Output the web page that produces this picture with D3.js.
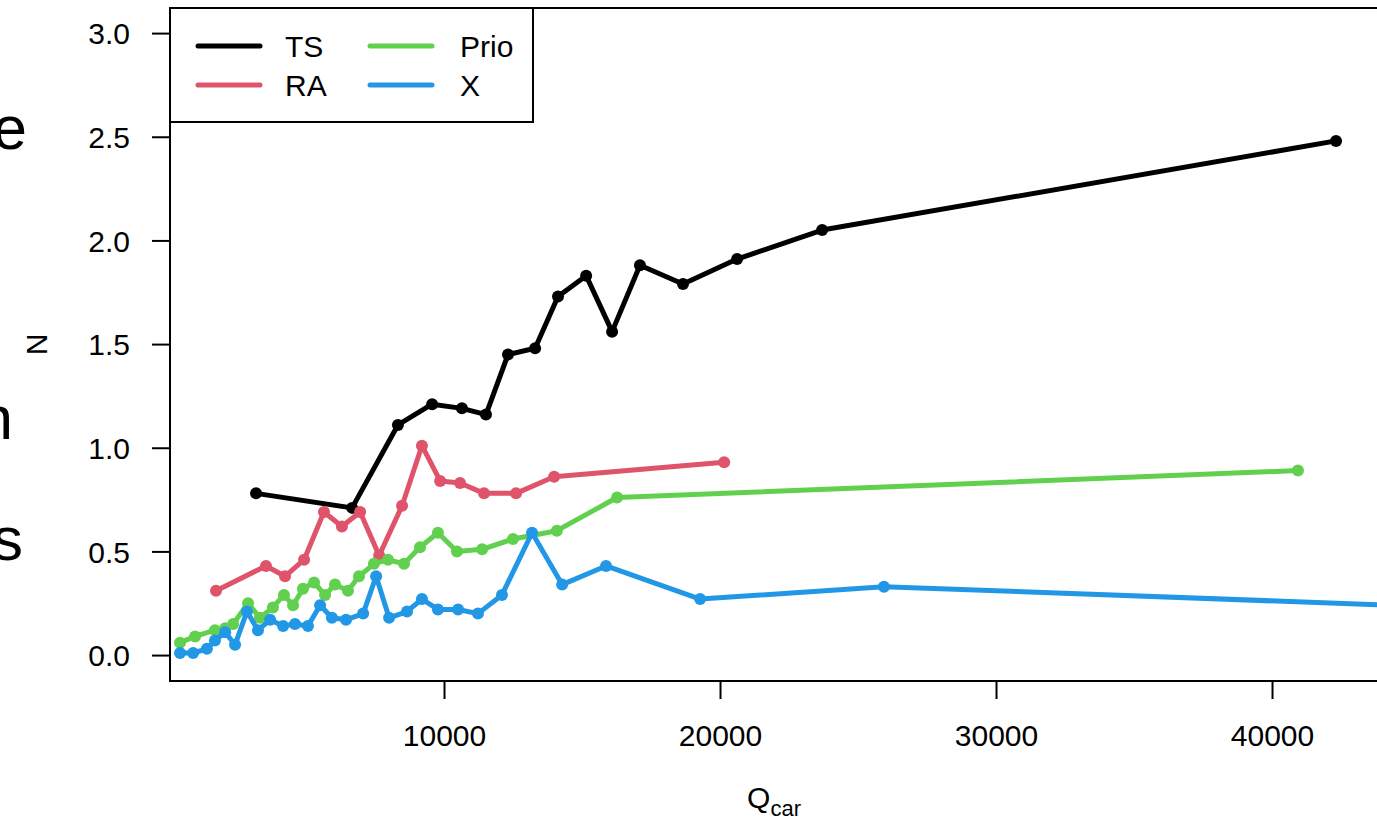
<!DOCTYPE html>
<html>
<head>
<meta charset="utf-8">
<script src="https://cdn.jsdelivr.net/npm/d3@7"></script>
<style>
  body { margin: 0; background: #fff; }
  svg { display: block; font-family: "Liberation Sans", Arial, sans-serif; }
</style>
</head>
<body>
<svg id="chart" width="1377" height="830"></svg>
<script>
// series values (Qcar, N)
const tsQ   = [3190, 6670, 8330, 9570, 10650, 11520, 12320, 13300, 14130, 15150, 16090, 17100, 18660, 20620, 23700, 42320];
const tsN   = [0.78, 0.71, 1.11, 1.21, 1.19, 1.16, 1.45, 1.48, 1.73, 1.83, 1.56, 1.88, 1.79, 1.91, 2.05, 2.48];
const raQ   = [1740, 3550, 4240, 4930, 5650, 6300, 6960, 7650, 8480, 9200, 9860, 10580, 11450, 12610, 13990, 20150];
const raN   = [0.31, 0.43, 0.38, 0.46, 0.69, 0.62, 0.69, 0.48, 0.72, 1.01, 0.84, 0.83, 0.78, 0.78, 0.86, 0.93];
const prioQ = [435, 980, 1700, 2070, 2360, 2900, 3330, 3800, 4200, 4530, 4890, 5290, 5690, 6050, 6520, 6920, 7460, 7970, 8550, 9130, 9780, 10470, 11380, 12500, 14090, 16270, 40940];
const prioN = [0.06, 0.09, 0.12, 0.13, 0.15, 0.25, 0.18, 0.23, 0.29, 0.24, 0.32, 0.35, 0.29, 0.34, 0.31, 0.38, 0.44, 0.46, 0.44, 0.52, 0.59, 0.50, 0.51, 0.56, 0.60, 0.76, 0.89];
const xQ    = [435, 910, 1410, 1700, 2070, 2430, 2860, 3260, 3700, 4170, 4600, 5070, 5510, 5940, 6450, 7070, 7540, 8010, 8660, 9200, 9780, 10510, 11230, 12100, 13190, 14280, 15870, 19280, 25940, 46450];
const xN    = [0.01, 0.01, 0.03, 0.07, 0.11, 0.05, 0.21, 0.12, 0.17, 0.14, 0.15, 0.14, 0.24, 0.18, 0.17, 0.20, 0.38, 0.18, 0.21, 0.27, 0.22, 0.22, 0.20, 0.29, 0.59, 0.34, 0.43, 0.27, 0.33, 0.23];

const seriesNames  = ["TS", "RA", "Prio", "X"];
const seriesColors = ["#000000", "#DF536B", "#61D04F", "#2297E6"];
const xTicks = [10000, 20000, 30000, 40000];
const yTicks = [0, 0.5, 1, 1.5, 2, 2.5, 3];

const series = [
    { name: "TS",   q: tsQ,   n: tsN },
    { name: "RA",   q: raQ,   n: raN },
    { name: "Prio", q: prioQ, n: prioN },
    { name: "X",    q: xQ,    n: xN }
];

const svg = d3.select("#chart");
const box = { left: 170, top: 8, right: 1378, bottom: 681 };

const xScale = d3.scaleLinear().domain([72, 43840]).range([box.left, box.right]);
const yScale = d3.scaleLinear().domain([-0.125, 3.121]).range([box.bottom, box.top]);

// cut-off text from the neighbouring panel
svg.append("g")
    .attr("font-size", 62)
    .attr("text-anchor", "end")
    .selectAll("text")
    .data([["e", 27, 149], ["n", 13, 439], ["s", 23, 560]])
    .join("text")
    .attr("x", d => d[0] === "n" ? d[1] : d[1])
    .attr("y", d => d[2])
    .text(d => d[0]);

svg.append("clipPath").attr("id", "plotclip")
    .append("rect")
    .attr("x", box.left).attr("y", box.top)
    .attr("width", box.right - box.left).attr("height", box.bottom - box.top);

// axes
const xAxis = svg.append("g")
    .attr("transform", `translate(0,${box.bottom})`)
    .call(d3.axisBottom(xScale).tickValues(xTicks).tickSize(18).tickPadding(26).tickFormat(d3.format("d")));
const yAxis = svg.append("g")
    .attr("transform", `translate(${box.left},0)`)
    .call(d3.axisLeft(yScale).tickValues(yTicks).tickSize(18).tickPadding(22).tickFormat(d3.format(".1f")));

[xAxis, yAxis].forEach(g => {
    g.select(".domain").remove();
    g.selectAll(".tick line").attr("stroke", "#000").attr("stroke-width", 2);
    g.selectAll(".tick text").attr("font-size", 30).attr("font-family", "Liberation Sans, Arial, sans-serif").attr("fill", "#000");
});
yAxis.selectAll(".tick text").attr("dy", "0.36em");

// plot frame
svg.append("rect")
    .attr("x", box.left).attr("y", box.top)
    .attr("width", box.right - box.left).attr("height", box.bottom - box.top)
    .attr("fill", "none").attr("stroke", "#000").attr("stroke-width", 2);

// axis titles
svg.append("text")
    .attr("transform", `translate(47,${(box.top + box.bottom) / 2}) rotate(-90)`)
    .attr("text-anchor", "middle")
    .attr("font-size", 30)
    .text("N");

const xt = svg.append("text")
    .attr("x", (box.left + box.right) / 2)
    .attr("y", 808)
    .attr("text-anchor", "middle")
    .attr("font-size", 30);
xt.append("tspan").text("Q");
xt.append("tspan").attr("font-size", 22).attr("dy", 8).text("car");

// data
const line = d3.line().x(d => xScale(d[0])).y(d => yScale(d[1]));
const plot = svg.append("g").attr("clip-path", "url(#plotclip)");

series.forEach((s, i) => {
    const pts = s.q.map((q, j) => [q, s.n[j]]);
    plot.append("path")
        .datum(pts)
        .attr("d", line)
        .attr("fill", "none")
        .attr("stroke", seriesColors[i])
        .attr("stroke-width", 5)
        .attr("stroke-linejoin", "round");
    plot.selectAll(null)
        .data(pts)
        .join("circle")
        .attr("cx", d => xScale(d[0]))
        .attr("cy", d => yScale(d[1]))
        .attr("r", 6)
        .attr("fill", seriesColors[i]);
});

// legend
const legend = svg.append("g");
legend.append("rect")
    .attr("x", box.left).attr("y", box.top)
    .attr("width", 363).attr("height", 114)
    .attr("fill", "#fff").attr("stroke", "#000").attr("stroke-width", 2);

const legPos = [[198, 46], [198, 85], [370, 46], [370, 85]];
seriesNames.forEach((name, i) => {
    const [lx, ly] = legPos[i];
    legend.append("line")
        .attr("x1", lx).attr("x2", lx + 62)
        .attr("y1", ly).attr("y2", ly)
        .attr("stroke", seriesColors[i]).attr("stroke-width", 5)
        .attr("stroke-linecap", "round");
    legend.append("text")
        .attr("x", lx + (i < 2 ? 87 : 90))
        .attr("y", ly + 11)
        .attr("font-size", 30)
        .text(name);
});
</script>
</body>
</html>
